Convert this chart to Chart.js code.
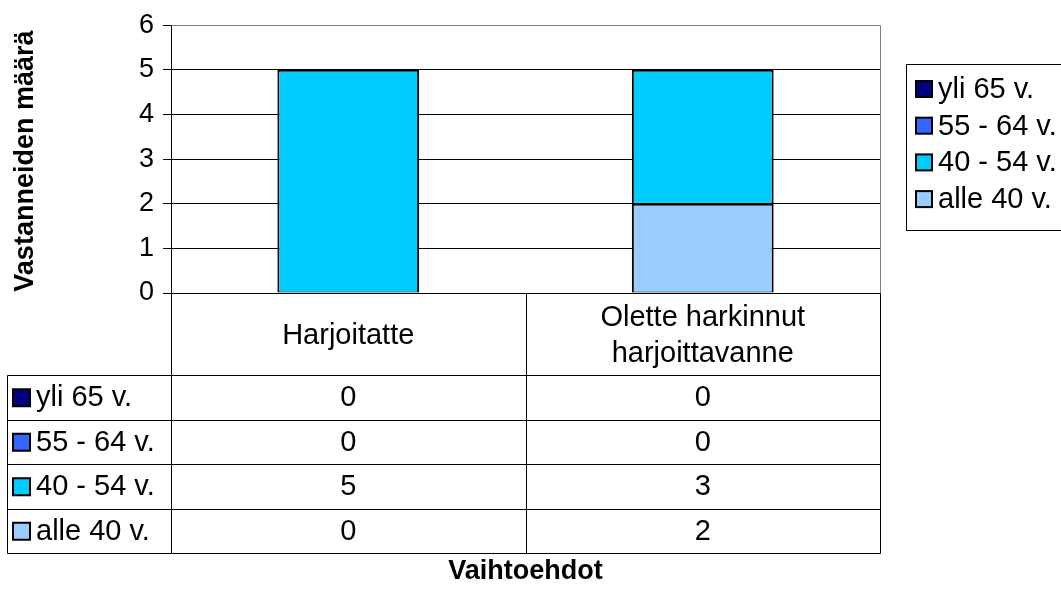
<!DOCTYPE html>
<html>
<head>
<meta charset="utf-8">
<style>
  html, body { margin: 0; padding: 0; background: #fff; }
  #chart { display: block; }
</style>
<script src="https://cdn.jsdelivr.net/npm/chart.js@4"></script>
</head>
<body>
<canvas id="chart" width="1061" height="609"></canvas>
<script>
const categories = ["Harjoitatte", ["Olette harkinnut", "harjoittavanne"]];
const seriesNames = ["alle 40 v.", "40 - 54 v.", "55 - 64 v.", "yli 65 v."];
const alle40 = [0, 2];
const from40to54 = [5, 3];
const from55to64 = [0, 0];
const over65 = [0, 0];
const yTicks = [0, 1, 2, 3, 4, 5, 6];
const yTitle = "Vastanneiden määrä";
const xTitle = "Vaihtoehdot";

const seriesColors = ["#99CCFF", "#00CCFF", "#3366FF", "#000080"];
const FONT = "'Liberation Sans', Arial, sans-serif";
const FS = 27;   // ticks, titles
const TFS = 29;  // table + legend

// table + legend + titles, drawn from chart scales and datasets
const tablePlugin = {
  id: "dataTable",
  afterDraw(chart) {
    const ctx = chart.ctx;
    const area = chart.chartArea;
    const xs = chart.scales.x;
    const headerH = 82;
    const rowH = 44.5;
    const labelLeft = 7;
    const headTop = area.bottom;
    const rowsTop = headTop + headerH;
    const midX = (xs.getPixelForValue(0) + xs.getPixelForValue(1)) / 2;
    const cols = [area.left, midX, area.right];
    const rows = chart.data.datasets.slice().reverse();
    const rowsBottom = rowsTop + rows.length * rowH;

    ctx.save();
    const line = (x1, y1, x2, y2, color) => {
      ctx.strokeStyle = color || "#000";
      ctx.lineWidth = 1;
      ctx.beginPath();
      ctx.moveTo(Math.round(x1) + 0.5, Math.round(y1) + 0.5);
      ctx.lineTo(Math.round(x2) + 0.5, Math.round(y2) + 0.5);
      ctx.stroke();
    };

    // plot border top / right
    line(area.left, area.top, area.right, area.top, "#808080");
    line(area.right, area.top, area.right, area.bottom, "#808080");

    // table grid
    line(area.left, headTop, area.right, headTop);
    for (let i = 0; i <= rows.length; i++) {
      const y = rowsTop + i * rowH;
      line(labelLeft, y, area.right, y);
    }
    line(labelLeft, rowsTop, labelLeft, rowsBottom);
    cols.forEach(x => line(x, headTop, x, rowsBottom));

    ctx.fillStyle = "#000";
    ctx.font = TFS + "px " + FONT;
    ctx.textAlign = "center";
    ctx.textBaseline = "middle";

    // header
    chart.data.labels.forEach((lab, i) => {
      const cx = (cols[i] + cols[i + 1]) / 2;
      const lines = Array.isArray(lab) ? lab : [lab];
      const lh = 36;
      const cy = headTop + headerH / 2 + 2 - ((lines.length - 1) * lh) / 2;
      lines.forEach((t, j) => ctx.fillText(t, cx, cy + j * lh));
    });

    // rows
    rows.forEach((ds, r) => {
      const cy = rowsTop + r * rowH + rowH / 2;
      ctx.fillStyle = ds.backgroundColor;
      ctx.fillRect(13, cy - 8, 17, 17);
      ctx.strokeStyle = "#000";
      ctx.lineWidth = 2;
      ctx.strokeRect(13, cy - 8, 17, 17);
      ctx.fillStyle = "#000";
      ctx.textAlign = "left";
      ctx.fillText(ds.label, 36, cy + 1);
      ctx.textAlign = "center";
      ds.data.forEach((v, i) => {
        ctx.fillText(String(v), (cols[i] + cols[i + 1]) / 2, cy + 1);
      });
    });

    // legend
    ctx.strokeStyle = "#000";
    ctx.lineWidth = 1;
    ctx.strokeRect(906.5, 64.5, 170, 166);
    rows.forEach((ds, r) => {
      const cy = 89 + r * 36.7;
      ctx.fillStyle = ds.backgroundColor;
      ctx.fillRect(916, cy - 8, 16, 16);
      ctx.lineWidth = 2;
      ctx.strokeRect(916, cy - 8, 16, 16);
      ctx.fillStyle = "#000";
      ctx.textAlign = "left";
      ctx.fillText(ds.label, 938, cy + 1);
    });

    // axis titles
    ctx.font = "bold " + FS + "px " + FONT;
    ctx.textAlign = "center";
    ctx.fillText(xTitle, (area.left + area.right) / 2, 572);
    ctx.translate(26, (area.top + area.bottom) / 2 + 2);
    ctx.rotate(-Math.PI / 2);
    ctx.fillText(yTitle, 0, 0);
    ctx.restore();
  }
};

const seriesValues = [alle40, from40to54, from55to64, over65];

new Chart(document.getElementById("chart"), {
  type: "bar",
  data: {
    labels: categories,
    datasets: seriesNames.map((name, i) => ({
      label: name,
      data: seriesValues[i],
      backgroundColor: seriesColors[i],
      borderColor: "#000",
      borderWidth: { top: 2, left: 2, right: 2, bottom: 1 },
      borderSkipped: false,
      categoryPercentage: 1,
      barPercentage: 0.4
    }))
  },
  options: {
    responsive: false,
    animation: false,
    devicePixelRatio: 1,
    layout: { padding: { left: 0, top: 25, right: 181, bottom: 0 } },
    plugins: { legend: { display: false }, tooltip: { enabled: false } },
    scales: {
      x: {
        stacked: true,
        ticks: { display: false },
        grid: { display: false },
        border: { display: false },
        afterFit: (axis) => { axis.height = 316; }
      },
      y: {
        stacked: true,
        min: yTicks[0],
        max: yTicks[yTicks.length - 1],
        afterBuildTicks: (axis) => { axis.ticks = yTicks.map(v => ({ value: v })); },
        afterFit: (axis) => { axis.width = 171; },
        ticks: {
          color: "#000",
          padding: 9,
          font: { family: FONT, size: FS }
        },
        grid: {
          color: (c) => (c.tick && c.tick.value === 6 ? "#808080" : "#000"),
          tickColor: "#000",
          tickLength: 8,
          lineWidth: 1
        },
        border: { color: "#000", width: 1 }
      }
    }
  },
  plugins: [tablePlugin]
});
</script>
</body>
</html>
